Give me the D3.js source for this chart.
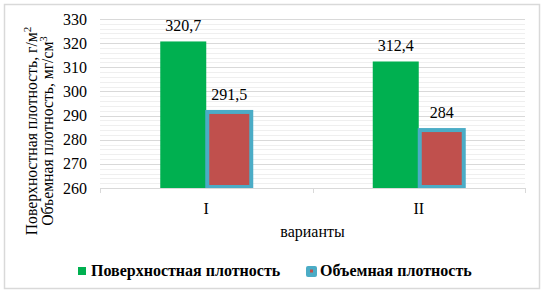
<!DOCTYPE html>
<html><head><meta charset="utf-8">
<script src="https://cdn.jsdelivr.net/npm/d3@7"></script>
<style>body{margin:0;background:#fff}svg{display:block}</style>
</head><body>
<svg id="c" width="547" height="296"></svg>
<script>
const categories = ["I", "II"];
const seriesNames = ["Поверхностная плотность", "Объемная плотность"];
const surfaceDensity = [320.7, 312.4];
const volumeDensity = [291.5, 284];
const valueLabels = [["320,7", "312,4"], ["291,5", "284"]];
const yTicks = [260, 270, 280, 290, 300, 310, 320, 330];
const xTitle = "варианты";

const FONT = "'Liberation Serif', 'Times New Roman', serif";
const svg = d3.select("#c");
const W = 547, H = 296;
const m = {l: 100, r: 22, t: 19, b: 108};
const pw = W - m.l - m.r, ph = H - m.t - m.b;

svg.append("rect").attr("x", 4.5).attr("y", 4.5).attr("width", 535).attr("height", 284)
  .attr("fill", "#fff").attr("stroke", "#d9d9d9").attr("stroke-width", 1.5);

const g = svg.append("g").attr("transform", `translate(${m.l},${m.t})`);
const y = d3.scaleLinear().domain([260, 330]).range([ph, 0]);
const x0 = d3.scaleBand().domain(categories).range([0, pw]).paddingInner(0).paddingOuter(0);
const innerW = 92;
const x1 = d3.scaleBand().domain([0, 1]).range([(x0.bandwidth() - innerW) / 2, (x0.bandwidth() + innerW) / 2]);

// minor grid
const minor = d3.range(262, 330, 2).filter(v => v % 10 !== 0);
g.append("g").selectAll("line").data(minor).join("line")
  .attr("x1", 0).attr("x2", pw).attr("y1", d => Math.round(y(d)) + 0.5).attr("y2", d => Math.round(y(d)) + 0.5)
  .attr("stroke", "#efefef").attr("stroke-width", 1);
// major grid
g.append("g").selectAll("line").data(yTicks.filter(v => v > 260)).join("line")
  .attr("x1", 0).attr("x2", pw).attr("y1", d => Math.round(y(d)) + 0.5).attr("y2", d => Math.round(y(d)) + 0.5)
  .attr("stroke", "#d9d9d9").attr("stroke-width", 1);

// y axis labels
const ya = g.append("g").call(d3.axisLeft(y).tickValues(yTicks).tickSize(0).tickPadding(13));
ya.select(".domain").remove();
ya.attr("font-family", null).attr("font-size", null);
ya.selectAll("text").style("font-family", FONT).style("font-size", "16px").attr("fill", "#000");

// bars
const series = [surfaceDensity, volumeDensity];
const fills = ["#00b050", "#c0504d"];
categories.forEach((c, i) => {
  series.forEach((s, j) => {
    const bx = x0(c) + x1(j), bw = x1.bandwidth();
    if (j === 0) {
      g.append("rect").attr("x", bx).attr("y", y(s[i])).attr("width", bw).attr("height", ph - y(s[i]))
        .attr("fill", fills[j]);
    } else {
      g.append("rect").attr("x", bx + 1).attr("y", y(s[i])).attr("width", bw - 2).attr("height", ph - y(s[i]) - 1)
        .attr("fill", fills[j]).attr("stroke", "#4bacc6").attr("stroke-width", 4);
    }
    g.append("text").attr("x", bx + bw / 2).attr("y", y(s[i]) - (j === 0 ? 10 : 12))
      .attr("text-anchor", "middle").style("font-family", FONT).style("font-size", "16px")
      .attr("fill", "#000").text(valueLabels[j][i]);
  });
});

// x axis
const xa = g.append("g").attr("transform", `translate(0,${ph})`);
xa.append("line").attr("x1", 0).attr("x2", pw).attr("y1", 0.5).attr("y2", 0.5).attr("stroke", "#d9d9d9");
const bounds = [0, ...categories.map(c => x0(c) + x0.bandwidth())];
xa.selectAll("line.t").data(bounds).join("line").attr("class", "t")
  .attr("x1", d => Math.round(d) + 0.5).attr("x2", d => Math.round(d) + 0.5).attr("y1", 0).attr("y2", 5).attr("stroke", "#d9d9d9");
xa.selectAll("text").data(categories).join("text")
  .attr("x", d => x0(d) + x0.bandwidth() / 2).attr("y", 26).attr("text-anchor", "middle")
  .style("font-family", FONT).style("font-size", "16px").attr("fill", "#000").text(d => d);
g.append("text").attr("x", pw / 2).attr("y", ph + 49).attr("text-anchor", "middle")
  .style("font-family", FONT).style("font-size", "16px").attr("fill", "#000").text(xTitle);

// y title
const yt = svg.append("text").attr("transform", "translate(0,131) rotate(-90)")
  .attr("text-anchor", "middle").style("font-family", FONT).style("font-size", "15.7px").attr("fill", "#000");
const l1 = yt.append("tspan").attr("x", 0).attr("y", 37);
l1.append("tspan").text("Поверхностная плотность, г/м");
l1.append("tspan").attr("dy", -6).style("font-size", "11px").text("2");
const l2 = yt.append("tspan").attr("x", 0).attr("y", 53);
l2.append("tspan").text("Объемная плотность, мг/см");
l2.append("tspan").attr("dy", -6).style("font-size", "11px").text("3");

// legend
const lg = svg.append("g").attr("transform", "translate(0,271)");
lg.append("rect").attr("x", 78).attr("y", -4).attr("width", 8).attr("height", 8).attr("fill", "#00b050");
lg.append("text").attr("x", 91).attr("y", 5).style("font-family", FONT).style("font-size", "16px")
  .attr("font-weight", "bold").attr("fill", "#000").text(seriesNames[0]);
lg.append("rect").attr("x", 306).attr("y", -5).attr("width", 11).attr("height", 11).attr("rx", 2)
  .attr("fill", "#4bacc6");
lg.append("rect").attr("x", 310).attr("y", -1.5).attr("width", 3).attr("height", 3).attr("fill", "#c0504d");
lg.append("text").attr("x", 320).attr("y", 5).style("font-family", FONT).style("font-size", "16px")
  .attr("font-weight", "bold").attr("fill", "#000").text(seriesNames[1]);
</script>
</body></html>
